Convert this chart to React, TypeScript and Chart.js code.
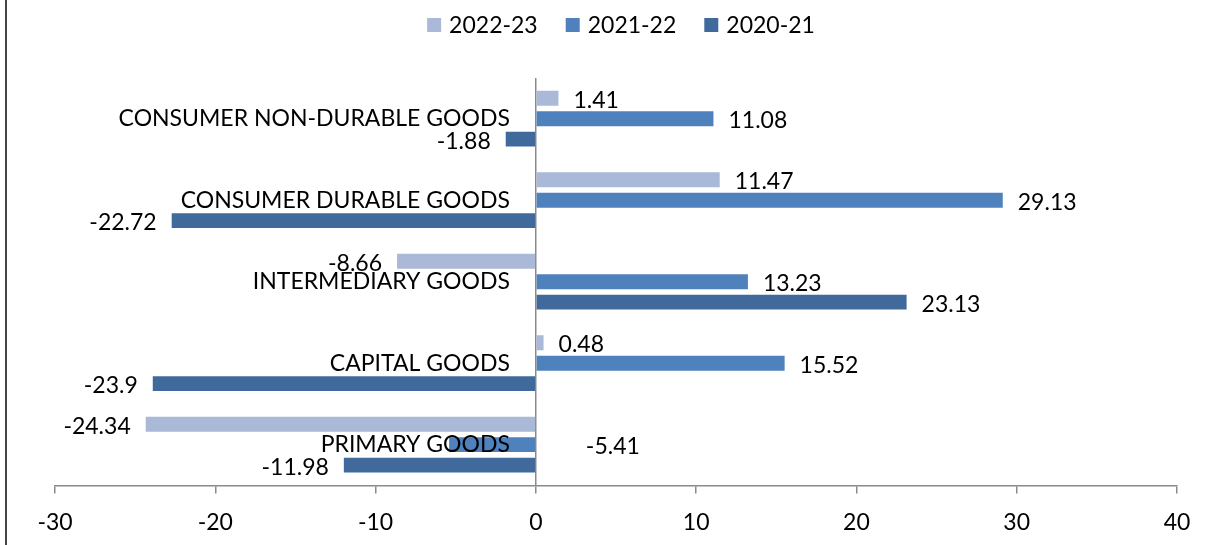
import React, { useEffect, useRef } from "react";
import { Chart, registerables } from "chart.js";

Chart.register(...registerables);

const categories = [
  "CONSUMER NON-DURABLE GOODS",
  "CONSUMER DURABLE GOODS",
  "INTERMEDIARY GOODS",
  "CAPITAL GOODS",
  "PRIMARY GOODS",
];
const seriesNames = ["2022-23", "2021-22", "2020-21"];
const values2022_23 = [1.41, 11.47, -8.66, 0.48, -24.34];
const values2021_22 = [11.08, 29.13, 13.23, 15.52, -5.41];
const values2020_21 = [-1.88, -22.72, 23.13, -23.9, -11.98];
const seriesColors = ["#AAB9D7", "#4F81BD", "#416A9C"];
const xMin = -30;
const xMax = 40;
const xStep = 10;

const FONT = "Lato, 'Open Sans', sans-serif";
const FS = 23;
const AXIS_GRAY = "#8a8a8a";

const drawPlugin = {
  id: "customDraw",
  afterDatasetsDraw(chart: any) {
    const ctx = chart.ctx as CanvasRenderingContext2D;
    const xs = chart.scales.x;
    const ys = chart.scales.y;
    const zero = xs.getPixelForValue(0);
    ctx.save();
    ctx.font = `${FS}px ${FONT}`;
    ctx.fillStyle = "#000";
    ctx.textBaseline = "middle";
    // category labels at the zero axis
    ctx.textAlign = "right";
    const catRight = zero - 26;
    categories.forEach((c, i) => {
      ctx.fillText(c, catRight, ys.getPixelForValue(i));
    });
    // value labels
    chart.data.datasets.forEach((ds: any, di: number) => {
      const meta = chart.getDatasetMeta(di);
      meta.data.forEach((bar: any, i: number) => {
        const v = ds.data[i] as number;
        const y = bar.y + 2;
        let x: number;
        let align: CanvasTextAlign;
        if (v >= 0) {
          x = bar.x + 15;
          align = "left";
        } else {
          const labelW = ctx.measureText(categories[i]).width;
          const labelLeft = catRight - labelW;
          const catY = ys.getPixelForValue(i);
          const overlaps =
            Math.abs(bar.y - catY) < bar.height / 2 + 1 && bar.x > labelLeft;
          if (overlaps) {
            x = zero + 50;
            align = "left";
          } else {
            x = bar.x - 15;
            align = "right";
          }
        }
        ctx.textAlign = align;
        ctx.fillText(String(v), x, y);
      });
    });
    ctx.restore();
  },
  afterDraw(chart: any) {
    const ctx = chart.ctx as CanvasRenderingContext2D;
    const area = chart.chartArea;
    ctx.save();
    // left frame line
    ctx.strokeStyle = "#444";
    ctx.lineWidth = 2;
    ctx.beginPath();
    ctx.moveTo(6, 0);
    ctx.lineTo(6, chart.height);
    ctx.stroke();
    // legend
    ctx.font = `${FS}px ${FONT}`;
    ctx.textBaseline = "middle";
    ctx.textAlign = "left";
    const box = 14;
    const gapText = 8;
    const gapItem = 28;
    const widths = seriesNames.map((s) => ctx.measureText(s).width);
    const total =
      widths.reduce((a, w) => a + box + gapText + w, 0) +
      gapItem * (seriesNames.length - 1);
    let x = (area.left + area.right) / 2 + 5 - total / 2;
    const cy = 25;
    seriesNames.forEach((s, i) => {
      ctx.fillStyle = seriesColors[i];
      ctx.fillRect(x, cy - box / 2, box, box);
      ctx.fillStyle = "#000";
      ctx.fillText(s, x + box + gapText, cy + 1);
      x += box + gapText + widths[i] + gapItem;
    });
    ctx.restore();
  },
};

export default function App() {
  const ref = useRef<HTMLCanvasElement | null>(null);
  useEffect(() => {
    if (!ref.current) return;
    const seriesValues = [values2022_23, values2021_22, values2020_21];
    const chart = new Chart(ref.current, {
      type: "bar",
      data: {
        labels: categories,
        datasets: seriesNames.map((name, i) => ({
          label: name,
          data: seriesValues[i],
          backgroundColor: seriesColors[i],
          borderWidth: 0,
          categoryPercentage: 0.752,
          barPercentage: 0.73,
        })),
      },
      options: {
        indexAxis: "y",
        responsive: false,
        animation: false,
        layout: { padding: { left: 55, right: 40, top: 78, bottom: -6 } },
        plugins: {
          legend: { display: false },
          tooltip: { enabled: false },
        },
        scales: {
          x: {
            type: "linear",
            min: xMin,
            max: xMax,
            ticks: {
              stepSize: xStep,
              color: "#000",
              font: { family: FONT, size: FS },
              padding: 15,
            },
            grid: {
              color: (c: any) =>
                c.tick && c.tick.value === 0 ? AXIS_GRAY : "rgba(0,0,0,0)",
              tickColor: AXIS_GRAY,
              tickLength: 8,
              lineWidth: 1.5,
            },
            border: { color: AXIS_GRAY, width: 1.5 },
          },
          y: {
            type: "category",
            display: false,
          },
        },
      },
      plugins: [drawPlugin],
    });
    return () => chart.destroy();
  }, []);
  return (
    <div style={{ position: "fixed", left: 0, top: 0, width: 1217, height: 545, background: "#fff" }}>
      <canvas ref={ref} width={1217} height={545} />
    </div>
  );
}
